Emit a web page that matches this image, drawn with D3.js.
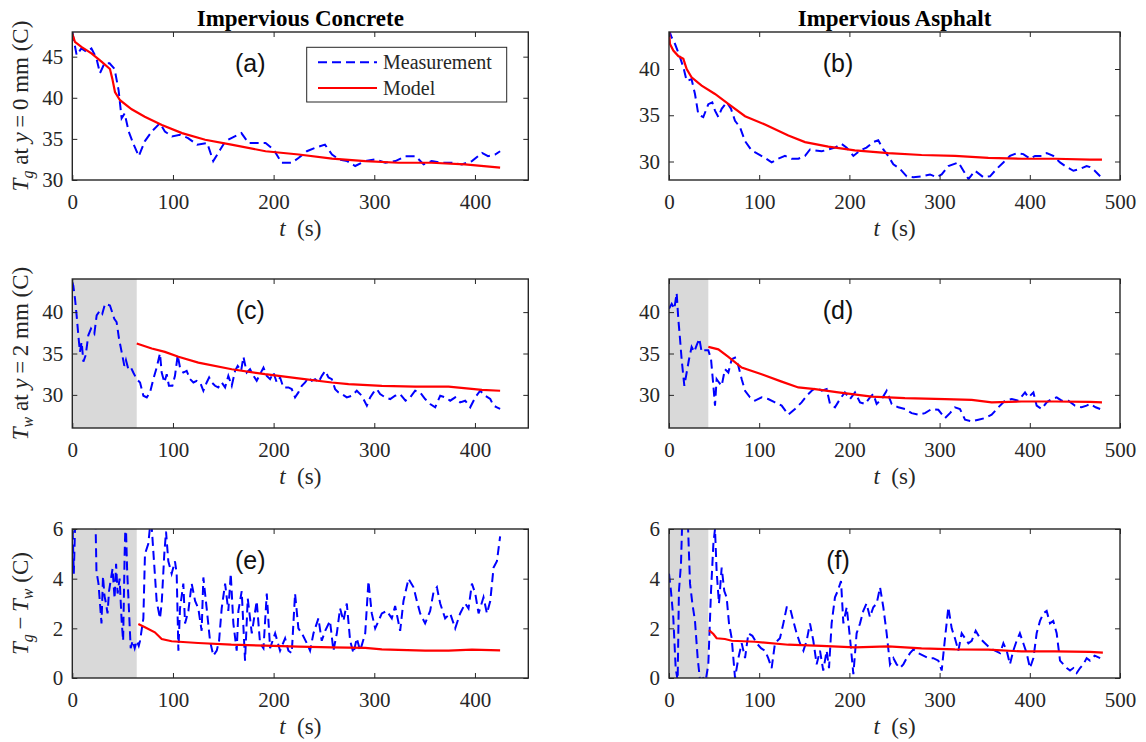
<!DOCTYPE html>
<html lang="en">
<head>
<meta charset="UTF-8">
<title>Impervious concrete and asphalt temperatures</title>
<script src="https://d3js.org/d3.v7.min.js"></script>
<style>
  body { margin: 0; background: #fff; }
  svg text { font-family: "Liberation Serif", "DejaVu Serif", serif; fill: #262626; }
</style>
</head>
<body>
<svg width="1146" height="742"></svg>
<script>
// time ticks and value ticks
const concreteTimeTicks = [0, 100, 200, 300, 400];
const asphaltTimeTicks = [0, 100, 200, 300, 400, 500];
const tgTicksConcrete = [30, 35, 40, 45];
const tgTicksAsphalt = [30, 35, 40];
const twTicks = [30, 35, 40];
const diffTicks = [0, 2, 4, 6];

// end of the grey (excluded) interval, s
const concreteShadeEnd = 64;
const asphaltShadeEnd = 43.6;

const legendLabels = ['Measurement', 'Model'];

// [t (s), T (C)]
const concreteTgMeas = [[0,48.0],[4.3,45.2],[9,46.0],[14,45.6],[19,46.0],[24,44.8],[27.5,43.0],[32,44.2],[37,44.2],[42,43.5],[46,40.9],[49,37.5],[52,38.1],[56,35.9],[61,34.3],[66,32.9],[72,34.7],[79,35.9],[87,36.9],[92,35.9],[99,35.3],[107,35.5],[115,35.1],[124,34.3],[134,34.5],[140,32.3],[147,33.7],[152,34.7],[158,35.1],[168,35.7],[175,34.5],[183,34.5],[192,34.5],[200,33.7],[208,32.1],[218,32.1],[225,32.7],[233,33.5],[241,33.9],[251,34.3],[258,33.1],[265,32.5],[273,32.3],[281,31.7],[291,32.3],[301,32.5],[311,32.1],[321,32.3],[331,32.9],[341,32.9],[349,31.9],[357,32.3],[367,32.1],[377,32.1],[387,31.9],[397,32.3],[407,33.3],[413,32.9],[420,33.1],[425,33.5]];
const concreteTgModel = [[0,47.8],[2.6,46.8],[9,46.2],[19,45.4],[29,44.4],[37.4,43.5],[39.8,42.3],[42.4,40.7],[47.4,39.7],[59,38.6],[72,37.7],[89,36.7],[109,35.7],[132,34.9],[158,34.3],[192,33.5],[225,33.1],[258,32.6],[291,32.3],[324,32.1],[357,32.1],[390,31.9],[425,31.5]];

const asphaltTgMeas = [[0,44.2],[3,43.4],[6.7,42.7],[11,41.6],[15.9,40.2],[19.6,38.7],[25,38.9],[28.8,37.3],[32.5,35.1],[38,34.8],[43.6,36.2],[48,36.4],[51,35.5],[54.7,34.8],[58.4,35.7],[64,36.4],[68.7,35.7],[73.2,34.4],[78.7,33.7],[84.3,32.2],[91.6,31.2],[99,30.8],[106.4,30.4],[113.8,29.9],[121.2,30.3],[128.6,30.6],[136,30.3],[143.4,30.3],[150.8,30.6],[156.3,31.3],[161.9,31.2],[169.3,31.1],[176.6,31.3],[184,31.5],[191.4,31.9],[197,31.5],[204.4,30.6],[211.8,31.2],[219,31.5],[226.5,32.1],[232,32.3],[237.6,31.3],[243,30.6],[248.7,29.7],[256,29.2],[263.5,28.4],[270.9,28.3],[280,28.4],[289.4,28.6],[296.7,28.3],[302.3,28.6],[309.7,29.5],[320.8,29.9],[326.4,29.0],[332,28.1],[339.2,29.0],[348.5,28.3],[355.9,28.4],[363.3,29.2],[370.7,29.9],[378,30.6],[385.4,30.9],[392.8,30.8],[400.2,30.3],[405.8,30.6],[413,30.6],[418.7,30.9],[426,30.6],[433.5,29.9],[440.9,29.4],[448.3,29.0],[455.7,29.2],[463,29.5],[466.7,29.4],[472,29.0],[478,28.4]];
const asphaltTgModel = [[0,44.2],[1.1,42.7],[4.8,42.0],[10.3,41.4],[15.9,41.1],[19.6,40.0],[25,39.1],[36.2,38.2],[51,37.3],[67.6,36.1],[84.3,34.9],[106.4,34.0],[132.3,32.8],[150.8,32.1],[176.6,31.6],[206,31.2],[243,30.9],[280,30.7],[317,30.6],[354,30.4],[391,30.3],[428,30.3],[466.7,30.2],[480,30.2]];

const concreteTwMeas = [[0,43.6],[1,43.2],[2.7,41.6],[4.3,39.6],[6,37.2],[7.6,35.2],[9.3,36.4],[11,34],[13.3,34.8],[15.9,37.2],[18.6,38],[21.9,37.4],[24.2,39.6],[27.5,40.2],[29.8,39.8],[32.5,41],[37.4,40.8],[41.7,39.2],[44,38.8],[46.4,36.8],[49,35.2],[51.7,33.5],[53.3,34.2],[55.7,33.1],[58.3,33.3],[60.6,32.7],[64,31.9],[67.3,31.5],[70.6,29.9],[74,29.7],[77.2,30.3],[80.5,31.9],[83.8,33.3],[87.1,35],[88.8,32.7],[91.5,31.5],[93.8,32.5],[96,31.1],[99.4,31.1],[102,32.3],[104.7,34.8],[107,33.3],[110.3,32.7],[113.6,32.9],[117,31.9],[120.3,31.5],[123.6,31.7],[127,31.5],[130.2,30.5],[133.5,31.5],[135.9,32.1],[138.5,31.5],[141.8,31.1],[145,30.9],[148.4,31.5],[151.8,30.9],[155,32.3],[158.4,31.1],[161.7,32.9],[164.3,33.5],[167.7,32.9],[170,34.6],[173.3,32.7],[176.6,33.1],[180,32.3],[183.2,31.7],[186.5,32.5],[189.9,33.3],[193.2,32.3],[196.5,31.9],[199.8,32.7],[203.1,31.5],[206.4,32.1],[209.7,30.9],[214.7,30.9],[218,30.7],[221.3,29.7],[224.6,30.3],[228,31.1],[231.3,31.5],[234.6,32.1],[237.9,31.7],[241.2,31.9],[244.5,31.5],[247.9,32.3],[251.2,32.9],[254.5,32.1],[257.8,31.9],[261.1,30.7],[264.4,30.3],[267.7,30.1],[272.7,29.7],[277.7,29.9],[282.6,30.5],[287.6,29.9],[292.6,28.7],[295.9,29.7],[299.2,30.3],[302.5,30.7],[305.8,30.1],[310.8,29.7],[315.8,29.5],[320.7,29.9],[325.7,30.1],[331,29.3],[335.6,29.7],[340.6,30.5],[345.6,30.3],[350.5,29.5],[355.5,28.9],[360.5,28.5],[365.5,29.9],[370.4,29.7],[375.4,29.3],[380.4,29.7],[385.3,29.1],[390.3,29.3],[395.3,28.5],[400.3,29.7],[405.2,30.5],[410.2,29.9],[415.2,29.5],[418.5,28.7],[421.8,28.5],[425,28.3]];
const concreteTwModel = [[64,36.2],[78.9,35.6],[92,35.2],[105.4,34.6],[125.2,33.9],[158.4,33.1],[191.5,32.5],[224.7,32.0],[257.8,31.5],[274.4,31.3],[307.5,31.1],[340.6,31.0],[373.8,31.0],[406.9,30.6],[425,30.5]];

const asphaltTwMeas = [[0,40.4],[3,41],[5.9,40.4],[8.5,42.3],[10.3,39.2],[12.2,36.8],[14,34.3],[17,31.1],[19.6,32.7],[22.2,34.3],[25.1,35.8],[28,35.2],[30.7,36],[33.6,36.8],[36.2,35.2],[40,35.4],[43.6,35.4],[46.6,34.3],[49.2,31.1],[51,28.7],[52.8,31.9],[55.4,31.5],[58.4,31.1],[62,33.1],[65.8,32.7],[69.5,34.3],[73.2,34.5],[76.9,33.5],[80.6,31.9],[84.3,30.5],[89.8,29.7],[95.3,29.3],[102.7,29.7],[110,29.5],[117.5,29.1],[124.9,28.7],[132.3,27.6],[139.7,28.3],[147,29.1],[152.6,29.9],[158.2,30.5],[163.7,30.9],[169.3,30.5],[174.8,30.7],[178.5,28.9],[184,28.5],[189.6,29.5],[195,30.3],[200.7,29.5],[206.2,30.3],[211.8,29.1],[217.3,28.9],[222.8,29.7],[226.5,30.1],[230.2,28.9],[235.8,29.5],[241.3,30.5],[246.9,28.9],[254.2,28.5],[261.6,28.3],[269,27.8],[276.4,27.6],[283.8,27.8],[291.2,28.3],[298.6,28.2],[306,27.2],[311.5,27.8],[317,28.5],[322.6,28.3],[328.2,27.0],[335.6,26.8],[343,27.0],[350.3,27.2],[357.7,27.6],[365.1,28.5],[372.5,29.3],[380,29.5],[387.3,29.3],[394.7,30.3],[398.4,29.7],[404,30.3],[407.6,28.7],[413.2,28.3],[418.7,29.1],[424.2,29.5],[429.8,29.7],[435.3,29.3],[442.7,29.3],[450,28.7],[457.5,28.5],[463,28.7],[466.7,28.9],[473,28.5],[478,28.3]];
const asphaltTwModel = [[43.6,35.8],[54.7,35.5],[65.8,34.6],[80.6,33.3],[102.7,32.5],[124.9,31.6],[143.4,30.9],[161.9,30.7],[187.7,30.3],[224.7,29.8],[261.6,29.6],[306,29.5],[335.6,29.4],[357.7,29.1],[391,29.2],[428,29.2],[466.7,29.15],[480,29.1]];

// [t (s), Tg - Tw (C)]
const concreteDiffMeas = [[0,6.5],[1.5,4.2],[3,6.5],[6,7.5],[20,7.5],[23,6.5],[24,4.3],[26,3.8],[29,2.2],[30.5,4.1],[32,3.3],[33.5,3.0],[35,2.6],[36.5,3.5],[38,3.9],[40,4.4],[42,3.2],[43.5,4.6],[45,3.4],[47,4.0],[49,2.3],[50.5,1.5],[52,5.0],[53,6.5],[54.5,4.3],[56,3.0],[58,1.2],[60,1.5],[62,1.2],[64,1.5],[66,1.3],[67.3,1.5],[70.6,2.4],[72.2,5.0],[75.5,5.4],[78.2,6.5],[80.5,5.1],[83.8,3.1],[87.1,2.4],[88.8,3.0],[91.4,5.0],[93.1,5.9],[95.4,4.7],[98.7,4.2],[102,4.7],[103.7,4.2],[105.4,1.1],[107,2.8],[110.3,3.8],[112,2.2],[115.3,2.7],[118.6,3.8],[122,3.1],[125.2,2.8],[128.5,1.9],[130.2,4.05],[133.5,2.8],[136.8,1.5],[140.1,0.9],[143.5,1.1],[145.8,1.5],[148.4,2.8],[151.8,3.8],[155,2.7],[157.4,4.2],[160,2.2],[163.3,1.1],[165,2.7],[168.3,3.5],[171.6,0.7],[174.3,3.2],[178.3,1.8],[183.2,3.1],[186.5,1.4],[189.9,1.2],[193.2,3.4],[196.5,1.2],[201.5,1.8],[206.4,1.1],[211.4,1.6],[214.7,1.1],[218,1.0],[221.3,3.4],[224.6,2.0],[228,1.8],[233,1.4],[236.2,1.1],[239.6,1.8],[244.5,2.4],[247.8,1.5],[251.2,1.9],[256,2.3],[259.4,1.1],[262.8,1.8],[266,2.8],[269.4,2.3],[272.7,3.0],[276,1.5],[279.3,1.0],[282.6,1.6],[286,1.1],[291,1.8],[294.2,3.9],[297.5,2.6],[300.9,2.0],[304.2,2.3],[307.5,2.6],[312.5,2.7],[317.4,2.4],[320.7,2.9],[325.7,1.9],[329,3.1],[334,4.0],[339,3.65],[342.3,3.1],[345.6,2.6],[350.5,2.2],[355.5,2.7],[358.8,3.45],[362.2,3.65],[365.5,3.0],[370.4,2.4],[375.4,2.6],[380.4,2.0],[385.3,2.6],[390.3,3.0],[393.6,2.8],[397,3.8],[400.3,3.4],[403.6,2.6],[408.5,3.25],[411.9,2.6],[415.2,3.1],[418.5,4.45],[421.8,4.7],[425,5.7]];
const concreteDiffModel = [[65.6,2.17],[72.2,2.04],[82,1.84],[88.8,1.57],[98.7,1.48],[125,1.41],[158,1.34],[191.5,1.30],[224.7,1.26],[257.8,1.23],[291,1.21],[307.5,1.15],[324,1.13],[350.5,1.10],[373.8,1.10],[397,1.14],[425,1.11]];

const asphaltDiffMeas = [[0,4.2],[2.2,3.5],[4.8,2.4],[7.4,0.4],[9.6,-0.1],[11,3.5],[13.3,4.6],[14.8,6.5],[17.7,6.8],[20.7,6.5],[23.3,3.8],[25.9,3.0],[28.8,2.3],[31.8,0.8],[34.4,-0.1],[38,0],[40.7,-0.1],[43.6,0.55],[46.6,3.5],[49.2,5.4],[51,6.0],[52.8,4.3],[55.4,3.0],[58.4,4.45],[61.3,3.5],[63.9,3.25],[66.5,2.2],[69.5,1.6],[73.2,0],[76.9,0.8],[80.6,1.4],[84.3,0.8],[88,1.8],[92.4,1.7],[97.2,1.4],[102,1.2],[106.4,1.1],[110,0.8],[113.8,0.4],[117.5,1.4],[123,1.6],[126.8,2.2],[130.5,2.85],[134,2.85],[137.8,2.3],[141.5,1.8],[145.2,1.4],[149,1.1],[152.6,1.5],[156.3,2.2],[160,1.5],[163.7,0.55],[167.4,1.1],[171,0.3],[174.8,1.1],[177.4,0.4],[180.3,2.2],[184,3.25],[187,3.5],[190.7,3.9],[193.3,2.2],[197,2.85],[200.7,1.6],[204.4,0.15],[208,1.8],[211.8,2.2],[215.4,2.7],[219,3.0],[222.8,2.45],[226.5,2.85],[230.2,3.0],[234,3.65],[237.6,2.85],[241.3,1.8],[245,0.55],[248.7,0.8],[252.4,0.55],[256,0.4],[259.8,0.55],[263.5,0.8],[267.2,1.0],[271,1.15],[276.4,1.0],[282,0.9],[287.5,0.8],[293,0.8],[298.6,0.7],[302.3,0.3],[306,1.6],[309.7,2.85],[313.4,2.0],[317,1.6],[320.8,1.1],[324.5,1.8],[328.2,1.6],[331.9,1.4],[335.6,1.5],[340,1.9],[344.8,1.6],[350.3,1.4],[356,1.2],[361.4,1.1],[367,1.0],[370.7,1.4],[374.4,1.1],[378,0.55],[381.7,1.1],[385.4,1.5],[389,1.8],[392.8,1.4],[396.5,1.0],[400.2,0.4],[404,0.8],[407.6,1.8],[411.3,2.3],[415,2.6],[418.7,2.7],[422.4,2.2],[426,2.3],[429.8,1.8],[433.5,0.7],[437.2,0.55],[441,0.4],[444.6,0.3],[448.3,0.4],[452,0.2],[455.7,0.4],[459.4,0.55],[463,0.8],[466.7,0.7],[472,0.9],[478,0.8]];
const asphaltDiffModel = [[44.3,1.93],[49.2,1.77],[52.8,1.6],[62,1.57],[69.5,1.5],[95.3,1.46],[132.3,1.34],[169,1.29],[206,1.23],[243,1.27],[280,1.19],[317,1.15],[354,1.14],[391,1.07],[428,1.07],[466.7,1.05],[481,1.02]];

const svg = d3.select('svg');

const columns = {
  concrete: { x0: 72.3, x1: 528.3, tmax: 453, ticks: concreteTimeTicks, title: 'Impervious Concrete', shadeEnd: concreteShadeEnd, labelDx: 178 },
  asphalt:  { x0: 669,  x1: 1120,  tmax: 500, ticks: asphaltTimeTicks,  title: 'Impervious Asphalt',  shadeEnd: asphaltShadeEnd,  labelDx: 169 }
};
const rows = [
  { y0: 32,  y1: 180 },
  { y0: 279, y1: 428 },
  { y0: 529, y1: 678 }
];

const panels = [
  { col: 'concrete', row: 0, tag: '(a)', ydom: [30, 48], yticks: tgTicksConcrete, meas: concreteTgMeas, model: concreteTgModel, shade: false, legend: true },
  { col: 'asphalt',  row: 0, tag: '(b)', ydom: [28, 44], yticks: tgTicksAsphalt,  meas: asphaltTgMeas,  model: asphaltTgModel,  shade: false },
  { col: 'concrete', row: 1, tag: '(c)', ydom: [26, 44], yticks: twTicks, meas: concreteTwMeas, model: concreteTwModel, shade: true },
  { col: 'asphalt',  row: 1, tag: '(d)', ydom: [26, 44], yticks: twTicks, meas: asphaltTwMeas,  model: asphaltTwModel,  shade: true },
  { col: 'concrete', row: 2, tag: '(e)', ydom: [0, 6], yticks: diffTicks, meas: concreteDiffMeas, model: concreteDiffModel, shade: true },
  { col: 'asphalt',  row: 2, tag: '(f)', ydom: [0, 6], yticks: diffTicks, meas: asphaltDiffMeas,  model: asphaltDiffModel,  shade: true }
];

const ink = '#262626';
const defs = svg.append('defs');
const fmt = d3.format('d');

function styleAxis(sel) {
  sel.select('.domain').remove();
  sel.attr('font-size', 21).attr('font-family', null);
  sel.selectAll('.tick line').attr('stroke', ink).attr('stroke-width', 1);
  sel.selectAll('.tick text').attr('fill', ink);
}

panels.forEach((p, i) => {
  const c = columns[p.col], r = rows[p.row];
  const x = d3.scaleLinear().domain([0, c.tmax]).range([c.x0, c.x1]);
  const y = d3.scaleLinear().domain(p.ydom).range([r.y1, r.y0]);
  const g = svg.append('g');

  defs.append('clipPath').attr('id', 'clip' + i)
    .append('rect').attr('x', c.x0).attr('y', r.y0)
    .attr('width', c.x1 - c.x0).attr('height', r.y1 - r.y0);

  if (p.shade) {
    g.append('rect')
      .attr('x', x(0)).attr('y', r.y0)
      .attr('width', x(c.shadeEnd) - x(0)).attr('height', r.y1 - r.y0)
      .attr('fill', '#d9d9d9');
  }

  const line = d3.line().x(d => x(d[0])).y(d => y(d[1]));
  const plot = g.append('g').attr('clip-path', `url(#clip${i})`);
  plot.append('path').datum(p.meas)
    .attr('d', line).attr('fill', 'none')
    .attr('stroke', '#0000ff').attr('stroke-width', 2)
    .attr('stroke-dasharray', '9,5');
  plot.append('path').datum(p.model)
    .attr('d', line).attr('fill', 'none')
    .attr('stroke', '#ff0000').attr('stroke-width', 2.2);

  // axes, ticks pointing inward on all four sides
  g.append('g').attr('transform', `translate(0,${r.y1})`)
    .call(d3.axisBottom(x).tickValues(c.ticks).tickFormat(fmt).tickSize(-5).tickPadding(14))
    .call(styleAxis);
  g.append('g').attr('transform', `translate(0,${r.y0})`)
    .call(d3.axisTop(x).tickValues(c.ticks).tickSize(-5).tickFormat(''))
    .call(styleAxis);
  g.append('g').attr('transform', `translate(${c.x0},0)`)
    .call(d3.axisLeft(y).tickValues(p.yticks).tickFormat(fmt).tickSize(-5).tickPadding(9))
    .call(styleAxis);
  g.append('g').attr('transform', `translate(${c.x1},0)`)
    .call(d3.axisRight(y).tickValues(p.yticks).tickSize(-5).tickFormat(''))
    .call(styleAxis);

  g.append('rect')
    .attr('x', c.x0).attr('y', r.y0)
    .attr('width', c.x1 - c.x0).attr('height', r.y1 - r.y0)
    .attr('fill', 'none').attr('stroke', ink).attr('stroke-width', 1.4);

  // panel tag
  g.append('text')
    .attr('x', c.x0 + c.labelDx).attr('y', r.y0 + 40)
    .attr('text-anchor', 'middle')
    .style('font-family', '"Liberation Sans", Arial, sans-serif')
    .style('fill', '#111')
    .attr('font-size', 25)
    .text(p.tag);

  // x label
  const xl = g.append('text')
    .attr('x', (c.x0 + c.x1) / 2).attr('y', r.y1 + 56)
    .attr('text-anchor', 'middle').attr('font-size', 23);
  xl.append('tspan').attr('font-style', 'italic').text('t');
  xl.append('tspan').text('\u2002(s)');

  if (p.legend) {
    const lg = g.append('g');
    lg.append('rect')
      .attr('x', 306.7).attr('y', 47.3).attr('width', 200).attr('height', 54.7)
      .attr('fill', '#fff').attr('stroke', ink).attr('stroke-width', 1);
    legendLabels.forEach((lab, k) => {
      const yy = 62.3 + k * 25.7;
      lg.append('line')
        .attr('x1', 318).attr('x2', 377).attr('y1', yy).attr('y2', yy)
        .attr('stroke', k === 0 ? '#0000ff' : '#ff0000')
        .attr('stroke-width', 2)
        .attr('stroke-dasharray', k === 0 ? '9,5' : null);
      lg.append('text')
        .attr('x', 383).attr('y', yy + 6.5)
        .attr('font-size', 20)
        .text(lab);
    });
  }
});

// column titles
Object.values(columns).forEach(c => {
  svg.append('text')
    .attr('x', (c.x0 + c.x1) / 2).attr('y', 26)
    .attr('text-anchor', 'middle')
    .attr('font-size', 23).attr('font-weight', 'bold')
    .style('fill', '#000')
    .text(c.title);
});

// y labels (left column only)
const yLabels = [
  [['T', 'i'], ['g', 'sub'], [' at ', 'r'], ['y', 'i'], ['\u2009=\u20090 mm (C)', 'r']],
  [['T', 'i'], ['w', 'sub'], [' at ', 'r'], ['y', 'i'], ['\u2009=\u20092 mm (C)', 'r']],
  [['T', 'i'], ['g', 'sub'], ['\u2009\u2212\u2009', 'r'], ['T', 'i'], ['w', 'sub'], [' (C)', 'r']]
];
yLabels.forEach((parts, k) => {
  const r = rows[k];
  const cy = (r.y0 + r.y1) / 2;
  const t = svg.append('text')
    .attr('transform', `translate(28,${cy}) rotate(-90)`)
    .attr('text-anchor', 'middle').attr('font-size', 23);
  let shifted = false;
  parts.forEach(([s, kind]) => {
    const ts = t.append('tspan').text(s);
    if (kind === 'sub') {
      ts.attr('font-style', 'italic').attr('font-size', 16).attr('dy', 5);
      shifted = true;
    } else {
      if (shifted) { ts.attr('dy', -5); shifted = false; }
      if (kind === 'i') ts.attr('font-style', 'italic');
    }
  });
});
</script>
</body>
</html>
